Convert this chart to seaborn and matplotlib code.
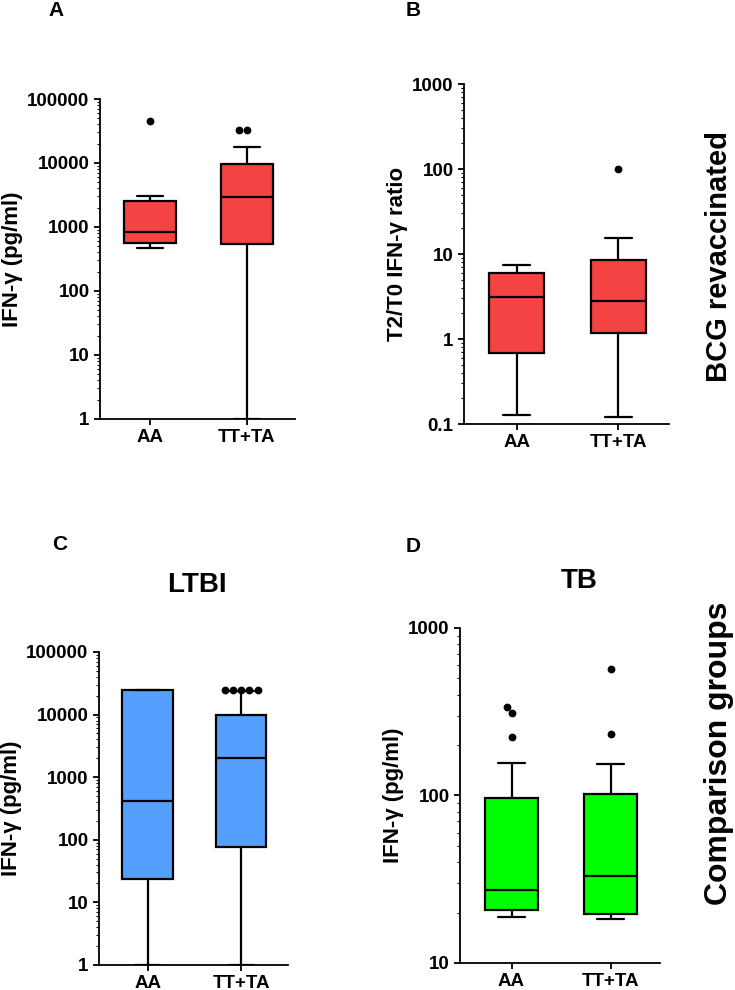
import pandas as pd
import matplotlib.pyplot as plt
import seaborn as sns
from matplotlib.ticker import NullFormatter

# Five-number summaries:
# [lower whisker, Q1, median, Q3, upper whisker]
groups = ["AA", "TT+TA"]

a_aa = [470, 560, 835, 2530, 3000]
a_tt = [1, 545, 2900, 9500, 18000]
a_out_aa = [45700]
a_out_tt = [33000, 33000]

b_aa = [0.128, 0.69, 3.14, 6.0, 7.4]
b_tt = [0.121, 1.17, 2.8, 8.5, 15.5]
b_out_aa = []
b_out_tt = [100]

c_aa = [1, 24, 420, 25000, 25000]
c_tt = [1, 77, 2000, 9800, 24000]
c_out_aa = []
c_out_tt = [25000, 25000, 25000, 25000, 25000]

d_aa = [18.8, 20.6, 27.2, 97, 157]
d_tt = [18.4, 19.7, 33, 102, 155]
d_out_aa = [339, 309, 223]
d_out_tt = [570, 233]

a_ticks = [1, 10, 100, 1000, 10000, 100000]
a_tick_labels = ["1", "10", "100", "1000", "10000", "100000"]
b_ticks = [0.1, 1, 10, 100, 1000]
b_tick_labels = ["0.1", "1", "10", "100", "1000"]
d_ticks = [10, 100, 1000]
d_tick_labels = ["10", "100", "1000"]

red = "#F44343"
blue = "#559FFF"
green = "#00FF00"

sns.set_style("ticks")
plt.rcParams['font.family'] = ['Liberation Sans', 'DejaVu Sans']
plt.rcParams['font.weight'] = 'bold'
plt.rcParams['axes.labelweight'] = 'bold'
plt.rcParams['axes.linewidth'] = 1.3
for key in ['text.color', 'axes.labelcolor', 'xtick.color', 'ytick.color',
            'axes.edgecolor']:
    plt.rcParams[key] = 'black'


def long_df(aa, tt):
    return pd.DataFrame({"group": ["AA"] * len(aa) + ["TT+TA"] * len(tt),
                         "value": list(aa) + list(tt)})


def panel(ax, aa, tt, out_aa, out_tt, color, ticks, tick_labels, ylabel):
    sns.boxplot(data=long_df(aa, tt), x="group", y="value", order=groups,
                whis=(0, 100), width=0.54, color=color, saturation=1,
                linecolor="black", linewidth=1.6, showfliers=False,
                log_scale=True, ax=ax)
    out = long_df(out_aa, out_tt)
    if len(out):
        sns.swarmplot(data=out, x="group", y="value", order=groups,
                      color="black", size=5.6, log_scale=True, ax=ax)
    ax.set_ylim(ticks[0], ticks[-1])
    ax.set_yticks(ticks)
    ax.set_yticklabels(tick_labels)
    ax.yaxis.set_minor_formatter(NullFormatter())
    ax.set_xlim(-0.52, 1.5)
    ax.set_xlabel("")
    ax.set_ylabel(ylabel, fontsize=16, labelpad=3)
    ax.tick_params(axis="both", which="major", labelsize=13.5, length=4,
                   width=1.3)
    ax.tick_params(axis="y", which="minor", length=2, width=0.8)
    sns.despine(ax=ax)


fig = plt.figure(figsize=(7.35, 9.9), dpi=100)
ax_a = fig.add_axes([0.136, 0.5768, 0.2653, 0.3232])
ax_b = fig.add_axes([0.6313, 0.5717, 0.2789, 0.3434])
ax_c = fig.add_axes([0.1347, 0.0253, 0.2571, 0.3162])
ax_d = fig.add_axes([0.6259, 0.0273, 0.2721, 0.3384])

panel(ax_a, a_aa, a_tt, a_out_aa, a_out_tt, red, a_ticks, a_tick_labels,
      "IFN-γ (pg/ml)")
panel(ax_b, b_aa, b_tt, b_out_aa, b_out_tt, red, b_ticks, b_tick_labels,
      "T2/T0 IFN-γ ratio")
panel(ax_c, c_aa, c_tt, c_out_aa, c_out_tt, blue, a_ticks, a_tick_labels,
      "IFN-γ (pg/ml)")
panel(ax_d, d_aa, d_tt, d_out_aa, d_out_tt, green, d_ticks, d_tick_labels,
      "IFN-γ (pg/ml)")

# panel letters and titles
for letter, x, y in [("A", 56, 11), ("B", 413, 11), ("C", 60, 545), ("D", 413, 546)]:
    fig.text(x / 735, 1 - y / 990, letter, fontsize=15, fontweight="bold",
             ha="center", va="center")
fig.text(197 / 735, 1 - 585 / 990, "LTBI", fontsize=20, fontweight="bold",
         ha="center", va="center")
fig.text(579 / 735, 1 - 581 / 990, "TB", fontsize=20, fontweight="bold",
         ha="center", va="center")

# row labels on the right
fig.text(0.978, 1 - 256 / 990, "BCG revaccinated", rotation=90, fontsize=21,
         fontweight="bold", ha="center", va="center")
fig.text(0.978, 1 - 753 / 990, "Comparison groups", rotation=90, fontsize=23,
         fontweight="bold", ha="center", va="center")

fig.savefig("out.png", dpi=100)
